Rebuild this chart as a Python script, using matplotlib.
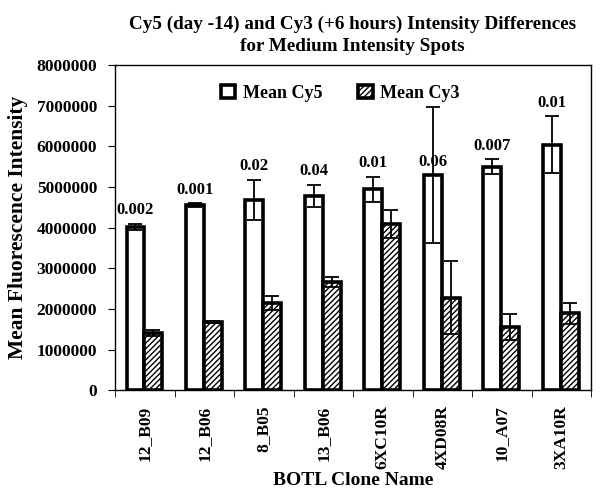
import numpy as np
import matplotlib
matplotlib.use('Agg')
import matplotlib.pyplot as plt

plt.rcParams['font.family'] = ['Liberation Serif', 'DejaVu Serif']
plt.rcParams['font.weight'] = 'bold'
plt.rcParams['hatch.linewidth'] = 1.0

clones = ['12_B09', '12_B06', '8_B05', '13_B06', '6XC10R', '4XD08R', '10_A07', '3XA10R']
cy5 = np.array([4020000, 4550000, 4680000, 4780000, 4940000, 5290000, 5500000, 6040000])
cy5_err = np.array([80000, 50000, 500000, 270000, 310000, 1680000, 180000, 700000])
cy3 = np.array([1410000, 1680000, 2150000, 2660000, 4090000, 2270000, 1560000, 1890000])
cy3_err = np.array([80000, 30000, 170000, 130000, 350000, 900000, 320000, 250000])
pvals = ['0.002', '0.001', '0.02', '0.04', '0.01', '0.06', '0.007', '0.01']

fig = plt.figure(figsize=(6.0, 4.97), dpi=100)
ax = fig.add_axes([0.192, 0.215, 0.793, 0.654])

x = np.arange(len(clones))
w = 0.3
ekw = dict(ecolor='black', elinewidth=1.3, capsize=5, capthick=1.3)
ax.bar(x - w / 2 - 0.01, cy5, w, color='white', edgecolor='black', linewidth=2.6,
       yerr=cy5_err, error_kw=ekw, label='Mean Cy5', zorder=3)
ax.bar(x + w / 2 - 0.01, cy3, w, color='white', edgecolor='black', linewidth=2.6,
       hatch='//////', yerr=cy3_err, error_kw=ekw, label='Mean Cy3', zorder=3)

# p-values above the Cy5 bars (4XD08R's label sits on the bar in the source)
anchor = cy5 + cy5_err
anchor[5] = cy5[5]
for xi, yi, p in zip(x, anchor, pvals):
    ax.annotate(p, (xi - w / 2 - 0.01, yi), xytext=(0, 4), textcoords='offset points',
                ha='center', va='bottom', fontsize=12, fontweight='bold')

ax.set_xlim(-0.5, len(clones) - 0.5)
ax.set_ylim(0, 8000000)
ax.set_yticks(np.arange(0, 8000001, 1000000))
ax.set_yticklabels([str(v) for v in range(0, 8000001, 1000000)], fontsize=12.5, fontweight='bold')
ax.set_xticks(x)
ax.set_xticklabels(clones, rotation=90, fontsize=12.5, fontweight='bold')
ax.tick_params(axis='x', length=0, pad=11)
ax.set_xticks(np.arange(-0.5, len(clones), 1), minor=True)
ax.tick_params(axis='x', which='minor', length=5, direction='out')
ax.tick_params(axis='y', length=5, direction='out', pad=8)
for s in ax.spines.values():
    s.set_linewidth(1.0)

ax.set_xlabel('BOTL Clone Name', fontsize=14, fontweight='bold', labelpad=2)
ax.set_ylabel('Mean Fluorescence Intensity', fontsize=15.5, fontweight='bold', labelpad=6)
fig.suptitle('Cy5 (day -14) and Cy3 (+6 hours) Intensity Differences\nfor Medium Intensity Spots',
             x=0.587, y=0.968, fontsize=13.8, fontweight='bold', linespacing=1.35)

ax.legend(loc='upper center', bbox_to_anchor=(0.473, 0.99), ncol=2, frameon=False,
          fontsize=13, handlelength=0.8, handleheight=0.8, columnspacing=2.0,
          handletextpad=0.4)

plt.savefig('out.png', dpi=100)
